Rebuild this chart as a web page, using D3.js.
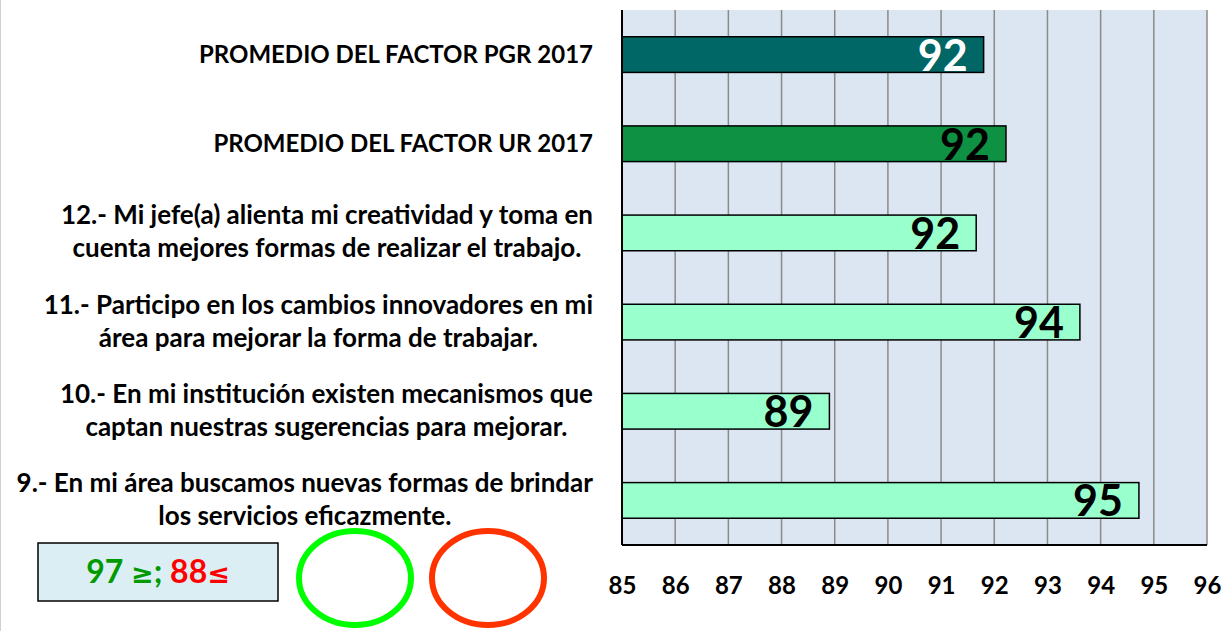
<!DOCTYPE html>
<html>
<head>
<meta charset="utf-8">
<script src="https://cdn.jsdelivr.net/npm/d3@7"></script>
<style>
	body { margin: 0; background: #ffffff; }
	text { font-family: Lato, "Open Sans", sans-serif; font-weight: bold; }
</style>
</head>
<body>
<div id="chart"></div>
<script>
// chart data, top to bottom
const categories = [
	["PROMEDIO DEL FACTOR PGR 2017"],
	["PROMEDIO DEL FACTOR UR 2017"],
	["12.- Mi jefe(a) alienta mi creatividad y toma en", "cuenta mejores formas de realizar el trabajo."],
	["11.- Participo en los cambios innovadores en mi", "área para mejorar la forma de trabajar."],
	["10.- En mi institución existen mecanismos que", "captan nuestras sugerencias para mejorar."],
	["9.- En mi área buscamos nuevas formas de brindar", "los servicios eficazmente."]
];
const values = [91.8, 92.22, 91.66, 93.61, 88.9, 94.72];
const valueLabels = ["92", "92", "92", "94", "89", "95"];
const barColors = ["#006666", "#0e9142", "#99ffcc", "#99ffcc", "#99ffcc", "#99ffcc"];
const labelColors = ["#ffffff", "#000000", "#000000", "#000000", "#000000", "#000000"];
const xTicks = [85, 86, 87, 88, 89, 90, 91, 92, 93, 94, 95, 96];

const width = 1223;
const height = 631;
const margin = { top: 10, right: 16, bottom: 86, left: 622 };

const svg = d3
	.select("#chart")
	.append("svg")
	.attr("width", width)
	.attr("height", height);

const innerW = width - margin.left - margin.right;
const innerH = height - margin.top - margin.bottom;

const x = d3.scaleLinear().domain([85, 96]).range([0, innerW]);
const y = d3
	.scaleBand()
	.domain(d3.range(categories.length))
	.range([0, innerH])
	.paddingInner(0.6)
	.paddingOuter(0.3);

const g = svg
	.append("g")
	.attr("transform", `translate(${margin.left}, ${margin.top})`);

// plot background
g.append("rect")
	.attr("width", innerW)
	.attr("height", innerH)
	.attr("fill", "#dce6f2");

// vertical gridlines
g.selectAll(".grid")
	.data(xTicks.slice(1))
	.enter()
	.append("line")
	.attr("x1", d => x(d))
	.attr("x2", d => x(d))
	.attr("y1", 0)
	.attr("y2", innerH)
	.attr("stroke", "#8a8a8a")
	.attr("stroke-width", 1.5);

// bars
g.selectAll(".bar")
	.data(values)
	.enter()
	.append("rect")
	.attr("x", x(85))
	.attr("y", (d, i) => y(i))
	.attr("width", d => x(d) - x(85))
	.attr("height", y.bandwidth())
	.attr("fill", (d, i) => barColors[i])
	.attr("stroke", "#000")
	.attr("stroke-width", 1.5);

// value labels
g.selectAll(".val")
	.data(values)
	.enter()
	.append("text")
	.attr("x", d => x(d) - 16)
	.attr("y", (d, i) => y(i) + y.bandwidth() / 2 + 16)
	.attr("text-anchor", "end")
	.attr("font-size", 43)
	.attr("fill", (d, i) => labelColors[i])
	.text((d, i) => valueLabels[i]);

// axes lines
g.append("line")
	.attr("x1", 0).attr("x2", 0)
	.attr("y1", 0).attr("y2", innerH)
	.attr("stroke", "#000").attr("stroke-width", 2);
g.append("line")
	.attr("x1", 0).attr("x2", innerW)
	.attr("y1", innerH).attr("y2", innerH)
	.attr("stroke", "#000").attr("stroke-width", 2);

// x tick labels
const xAxis = d3.axisBottom(x).tickValues(xTicks).tickSize(0).tickPadding(32);
const ax = g.append("g").attr("transform", `translate(0, ${innerH})`).call(xAxis);
ax.select(".domain").remove();
ax.selectAll("text")
	.attr("font-size", 24)
	.attr("fill", "#000")
	.style("font-family", "Lato, sans-serif")
	.style("font-weight", "bold");

// category labels
const lineH = 33;
const labelRight = 593;
categories.forEach((lines, i) => {
	const cy = margin.top + y(i) + y.bandwidth() / 2;
	const t = svg.append("g");
	const texts = lines.map((ln, j) =>
		t.append("text")
			.attr("font-size", lines.length > 1 ? 26 : 24)
			.attr("fill", "#000")
			.attr("y", cy + (j - (lines.length - 1) / 2) * lineH + 8)
			.text(ln)
	);
	const maxW = d3.max(texts, s => s.node().getComputedTextLength());
	texts.forEach(s => s.attr("text-anchor", "middle").attr("x", labelRight - maxW / 2));
});

// legend box
svg.append("rect")
	.attr("x", 38).attr("y", 543)
	.attr("width", 240).attr("height", 58)
	.attr("fill", "#dbeef4")
	.attr("stroke", "#000").attr("stroke-width", 1.5);
const lt = svg.append("text")
	.attr("x", 158).attr("y", 583)
	.attr("text-anchor", "middle")
	.attr("font-size", 32);
lt.append("tspan").attr("fill", "#009900").text("97 ");
lt.append("tspan").attr("fill", "#009900").style("font-family", "DejaVu Sans").attr("font-size", 27).text("≥");
lt.append("tspan").attr("fill", "#009900").text("; ");
lt.append("tspan").attr("fill", "#ff0000").text("88");
lt.append("tspan").attr("fill", "#ff0000").style("font-family", "DejaVu Sans").attr("font-size", 27).text("≤");

// traffic circles
svg.append("ellipse")
	.attr("cx", 355).attr("cy", 578)
	.attr("rx", 56).attr("ry", 47)
	.attr("fill", "none")
	.attr("stroke", "#00ff00").attr("stroke-width", 6);
svg.append("ellipse")
	.attr("cx", 488).attr("cy", 578)
	.attr("rx", 56).attr("ry", 47)
	.attr("fill", "none")
	.attr("stroke", "#ff3300").attr("stroke-width", 6);

// thin page edge on the left
svg.append("line")
	.attr("x1", 0.5).attr("x2", 0.5)
	.attr("y1", 0).attr("y2", height)
	.attr("stroke", "#d0d0d0");
</script>
</body>
</html>
